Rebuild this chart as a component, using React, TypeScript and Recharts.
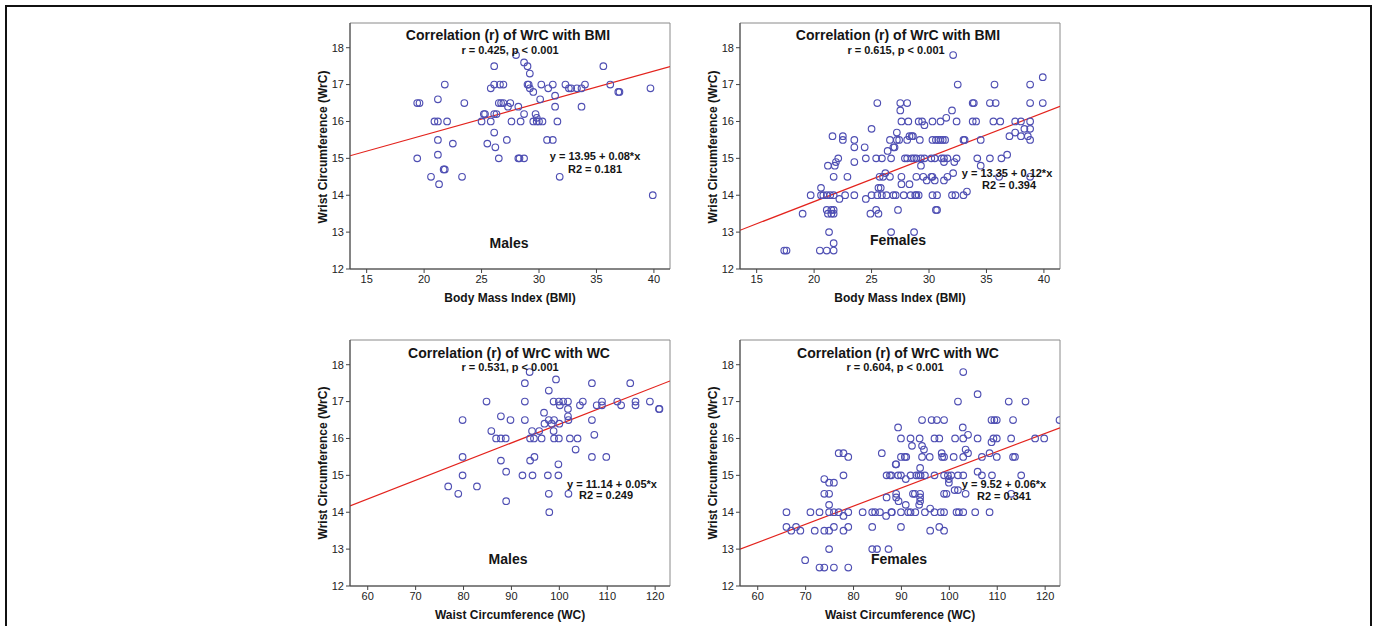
import { ScatterChart, Scatter, XAxis, YAxis, ReferenceLine, ReferenceArea } from 'recharts';

type Pt = [number, number];

const FONT = '"Liberation Sans", Arial, sans-serif';

// axes
const wrcTicks = [12, 13, 14, 15, 16, 17, 18];
const bmiTicks = [15, 20, 25, 30, 35, 40];
const wcTicks = [60, 70, 80, 90, 100, 110, 120];
const wrcDomain: Pt = [12, 18.67];
const bmiDomain: Pt = [13.55, 41.4];
const wcDomain: Pt = [56.3, 123.1];

// males: BMI vs wrist circumference
const malesBmi: Pt[] = [
  [19.4, 16.5], [19.6, 16.5], [19.4, 15.0], [20.6, 14.5], [20.9, 16.0], [21.2, 16.0], [21.2, 16.6],
  [21.2, 15.5], [21.2, 15.1], [21.3, 14.3], [21.7, 14.7], [21.8, 14.7], [21.8, 17.0], [22.0, 16.0],
  [22.5, 15.4], [23.3, 14.5], [23.5, 16.5], [25.0, 16.0], [25.2, 16.2], [25.3, 16.2], [25.5, 15.4],
  [25.8, 16.9], [25.8, 16.0], [26.1, 17.5], [26.1, 17.0], [26.1, 15.7], [26.2, 15.3], [26.1, 16.2],
  [26.3, 16.2], [26.5, 15.0], [26.5, 16.5], [26.6, 17.0], [26.7, 16.5], [26.9, 17.0], [26.9, 16.5],
  [27.2, 15.5], [27.3, 16.4], [27.5, 16.5], [27.6, 16.0], [28.0, 17.8], [28.2, 16.4], [28.2, 15.0],
  [28.3, 15.0], [28.4, 16.0], [28.7, 17.6], [28.7, 16.2], [28.7, 15.0], [29.0, 17.5], [29.0, 17.0],
  [29.1, 17.0], [29.2, 17.3], [29.2, 16.9], [29.5, 16.8], [29.5, 16.0], [29.7, 16.2], [29.8, 16.1],
  [29.8, 16.0], [30.0, 16.0], [30.2, 17.0], [30.1, 16.6], [30.3, 16.0], [30.7, 15.5], [30.8, 16.9],
  [31.2, 17.0], [31.2, 15.5], [31.4, 16.7], [31.4, 16.4], [31.6, 16.0], [31.8, 14.5], [32.3, 17.0],
  [32.6, 16.9], [32.8, 16.9], [33.3, 16.9], [33.7, 16.9], [33.7, 16.4], [34.0, 17.0], [35.6, 17.5],
  [36.2, 17.0], [36.9, 16.8], [37.0, 16.8], [39.7, 16.9], [39.9, 14.0],
];

// females: BMI vs wrist circumference
const femalesBmi: Pt[] = [
  [17.4, 12.5], [17.6, 12.5], [19.0, 13.5], [19.7, 14.0], [20.6, 14.2], [20.6, 14.0], [20.5, 12.5],
  [20.8, 14.0], [21.1, 14.0], [21.1, 12.5], [21.2, 14.8], [21.1, 13.6], [21.2, 13.5], [21.3, 13.0],
  [21.4, 14.0], [21.5, 13.6], [21.5, 13.5], [21.6, 15.6], [21.7, 14.5], [21.7, 14.0], [21.7, 13.6],
  [21.7, 13.5], [21.7, 12.7], [21.7, 12.5], [21.8, 14.8], [21.9, 14.9], [22.1, 15.0], [22.2, 13.9],
  [22.5, 15.6], [22.5, 15.5], [22.7, 14.0], [22.9, 14.5], [23.5, 14.0], [23.5, 14.9], [23.5, 15.5],
  [23.5, 15.3], [24.4, 15.3], [24.5, 15.0], [24.5, 13.9], [24.9, 13.5], [25.0, 14.0], [25.0, 15.8],
  [25.4, 13.6], [25.4, 15.0], [25.5, 16.5], [25.5, 14.0], [25.6, 13.5], [25.6, 14.2], [25.7, 14.5],
  [25.8, 14.2], [25.9, 15.0], [25.9, 14.0], [26.0, 14.5], [26.2, 14.6], [26.3, 14.0], [26.4, 15.2],
  [26.6, 14.5], [26.6, 15.5], [26.7, 15.0], [26.7, 13.0], [26.9, 14.0], [26.9, 15.3], [27.0, 15.3],
  [27.1, 14.0], [27.2, 15.7], [27.2, 15.5], [27.3, 13.6], [27.4, 15.5], [27.5, 16.5], [27.5, 16.3],
  [27.6, 14.3], [27.6, 14.5], [27.6, 16.0], [27.8, 14.0], [27.9, 15.0], [28.1, 16.5], [28.1, 15.0],
  [28.1, 15.5], [28.2, 16.0], [28.3, 14.3], [28.3, 15.6], [28.5, 15.6], [28.6, 15.6], [28.4, 14.0],
  [28.5, 15.0], [28.7, 15.0], [28.7, 13.0], [28.8, 14.0], [28.9, 15.0], [28.9, 14.0], [29.1, 14.0],
  [28.9, 14.5], [29.1, 16.0], [29.2, 15.5], [29.3, 15.0], [29.3, 14.8], [29.4, 16.0], [29.5, 14.5],
  [29.6, 15.9], [29.6, 15.0], [29.8, 14.4], [30.2, 14.5], [30.2, 15.0], [30.3, 16.0], [30.3, 14.5],
  [30.3, 15.5], [30.3, 14.0], [30.5, 15.0], [30.5, 14.4], [30.6, 15.5], [30.6, 13.6], [30.7, 13.6],
  [30.7, 14.0], [30.8, 15.5], [31.0, 16.0], [31.0, 15.5], [31.1, 15.0], [31.2, 15.5], [31.3, 14.9],
  [31.3, 14.4], [31.3, 15.0], [31.4, 15.5], [31.5, 16.1], [31.6, 14.5], [31.6, 15.0], [32.0, 16.3],
  [32.0, 14.0], [32.1, 17.8], [32.1, 14.6], [32.2, 14.9], [32.3, 14.0], [32.4, 16.0], [32.4, 15.0],
  [32.5, 17.0], [33.0, 14.0], [33.0, 15.5], [33.1, 15.5], [33.3, 14.1], [33.8, 16.5], [33.9, 16.5],
  [33.8, 16.0], [34.1, 16.0], [34.2, 15.0], [34.5, 15.5], [34.5, 14.8], [35.3, 16.5], [35.3, 15.0],
  [35.6, 16.0], [35.7, 17.0], [35.8, 16.5], [36.1, 14.5], [36.2, 16.0], [36.3, 15.0], [36.8, 15.1],
  [37.0, 15.6], [37.5, 16.0], [37.5, 15.7], [38.0, 16.0], [38.0, 15.6], [38.3, 15.8], [38.6, 15.6],
  [38.8, 17.0], [38.8, 16.5], [38.8, 16.0], [38.8, 15.8], [38.8, 15.5], [38.8, 14.5], [39.9, 17.2],
  [39.9, 16.5],
];

// males: waist circumference vs wrist circumference
const malesWc: Pt[] = [
  [76.8, 14.7], [78.9, 14.5], [79.8, 16.5], [79.8, 15.5], [79.8, 15.0], [82.8, 14.7], [84.8, 17.0],
  [85.8, 16.2], [86.8, 16.0], [87.8, 16.6], [87.8, 16.0], [87.8, 15.4], [88.8, 16.0], [88.9, 15.1],
  [88.9, 14.3], [89.8, 16.5], [92.3, 15.0], [92.8, 17.5], [92.8, 17.0], [92.8, 16.5], [93.8, 17.8],
  [93.9, 16.0], [93.9, 15.4], [94.3, 16.2], [94.4, 15.0], [94.7, 16.0], [94.8, 15.5], [95.8, 16.2],
  [96.3, 16.0], [96.8, 16.7], [96.9, 16.4], [97.6, 15.0], [97.8, 17.3], [97.8, 16.5], [97.8, 14.5],
  [97.9, 14.0], [98.4, 16.4], [98.8, 17.0], [98.8, 16.2], [98.9, 16.5], [98.9, 16.0], [99.3, 17.6],
  [99.8, 15.3], [99.8, 15.0], [99.9, 16.0], [99.9, 17.0], [100.0, 16.4], [100.1, 16.9], [100.8, 17.0],
  [101.8, 17.0], [101.8, 16.8], [101.8, 16.6], [101.9, 16.5], [101.9, 14.5], [102.2, 16.0],
  [103.4, 15.7], [103.8, 16.0], [104.3, 16.9], [104.9, 17.0], [106.8, 17.5], [106.8, 16.5],
  [106.8, 15.5], [107.3, 16.1], [107.8, 16.9], [108.9, 17.0], [108.9, 16.9], [109.8, 15.5],
  [112.1, 17.0], [112.9, 16.9], [114.8, 17.5], [115.9, 17.0], [115.9, 16.9], [118.9, 17.0],
  [120.8, 16.8], [120.9, 16.8],
];

// females: waist circumference vs wrist circumference
const femalesWc: Pt[] = [
  [66.0, 14.0], [66.0, 13.6], [67.0, 13.5], [68.0, 13.6], [68.9, 13.5], [69.9, 12.7], [71.0, 14.0],
  [71.9, 13.5], [72.9, 14.0], [72.9, 12.5], [73.9, 12.5], [73.9, 13.5], [73.9, 14.9], [73.9, 14.5],
  [74.9, 14.5], [74.9, 14.8], [74.9, 14.2], [74.9, 14.0], [74.9, 13.5], [74.9, 13.0], [75.9, 14.8],
  [75.9, 14.0], [75.9, 13.6], [75.9, 12.5], [76.9, 15.6], [76.9, 14.0], [77.9, 15.6], [77.9, 15.0],
  [77.9, 13.9], [77.9, 13.5], [78.9, 15.5], [78.9, 14.0], [78.9, 13.6], [78.9, 12.5], [81.9, 14.0],
  [83.9, 13.6], [83.9, 13.0], [83.9, 14.0], [84.5, 14.0], [84.9, 13.0], [85.5, 14.0], [85.9, 15.6],
  [86.8, 13.9], [86.9, 15.0], [86.9, 14.4], [87.3, 13.0], [87.6, 15.0], [87.9, 14.0], [87.9, 15.0],
  [88.0, 14.0], [88.8, 15.3], [88.9, 14.5], [88.9, 15.3], [88.9, 14.4], [89.3, 16.3], [89.3, 15.0],
  [89.4, 14.3], [89.9, 16.0], [89.9, 15.5], [89.9, 15.0], [89.9, 14.0], [89.9, 13.6], [90.7, 15.5],
  [90.9, 14.2], [90.9, 14.9], [91.0, 15.5], [91.4, 14.0], [91.9, 16.0], [91.9, 15.0], [91.9, 14.0],
  [92.2, 15.8], [92.4, 14.5], [92.8, 14.5], [92.9, 14.0], [93.1, 15.0], [93.6, 15.0], [93.7, 14.2],
  [93.8, 16.0], [93.9, 15.2], [93.9, 14.5], [93.9, 14.4], [93.9, 14.3], [94.0, 15.0], [94.3, 16.5],
  [94.3, 15.8], [94.3, 15.5], [94.7, 15.7], [94.9, 14.0], [94.9, 15.0], [95.9, 15.5], [96.0, 13.5],
  [96.0, 14.1], [96.3, 16.5], [96.9, 16.0], [96.9, 15.0], [96.9, 14.0], [97.4, 16.5], [97.9, 16.0],
  [97.9, 13.6], [98.2, 14.0], [98.4, 15.6], [98.5, 15.5], [98.9, 16.5], [98.9, 15.5], [98.9, 15.0],
  [98.9, 14.5], [98.9, 14.0], [98.9, 13.5], [99.4, 14.5], [99.7, 15.0], [99.9, 14.9], [99.9, 14.8],
  [100.4, 15.0], [100.9, 15.5], [101.1, 14.6], [101.2, 16.0], [101.5, 14.0], [101.8, 17.0],
  [101.8, 15.0], [101.8, 14.6], [102.0, 14.0], [102.8, 16.3], [102.9, 17.8], [102.9, 16.0],
  [102.9, 15.5], [102.9, 15.0], [102.9, 14.0], [103.4, 15.7], [103.4, 14.5], [103.9, 15.6],
  [103.9, 16.1], [105.4, 14.0], [105.9, 17.2], [105.9, 16.0], [105.9, 15.1], [106.8, 15.5],
  [106.8, 15.0], [108.4, 15.6], [108.4, 14.0], [108.8, 16.5], [108.8, 15.9], [108.9, 15.0],
  [109.2, 16.0], [109.4, 16.5], [109.9, 16.0], [109.9, 16.5], [109.9, 15.5], [112.4, 17.0],
  [112.9, 16.0], [113.3, 16.5], [113.3, 15.5], [113.7, 15.5], [112.9, 14.5], [115.0, 15.0],
  [115.9, 17.0], [117.9, 16.0], [119.8, 16.0], [123.0, 16.5],
];

// fit line end points, read at the plot edges
const fitMalesBmi: Pt[] = [[13.55, 15.07], [41.4, 17.49]];
const fitFemalesBmi: Pt[] = [[13.55, 13.05], [41.4, 16.41]];
const fitMalesWc: Pt[] = [[56.3, 14.17], [123.1, 17.56]];
const fitFemalesWc: Pt[] = [[56.3, 13.0], [123.1, 16.29]];

const Ring = (p: any) => (
  <circle cx={p.cx} cy={p.cy} r={3.3} fill="none" stroke="#4f4fb3" strokeWidth={1.15} />
);

function Txt({ x, y, size, children, rotate }: any) {
  return (
    <div
      style={{
        position: 'absolute',
        left: x,
        top: y,
        transform: `translate(-50%, -50%)${rotate ? ' rotate(-90deg)' : ''}`,
        fontSize: size,
        fontWeight: 'bold',
        lineHeight: 1,
        whiteSpace: 'nowrap',
        color: '#151515',
      }}
    >
      {children}
    </div>
  );
}

function Panel({ left, top, pts, fit, xDomain, xTicks }: any) {
  const data = pts.map(([x, y]: Pt) => ({ x, y }));
  const tick = { fontSize: 11, fill: '#222' };
  return (
    <div style={{ position: 'absolute', left, top }}>
      <ScatterChart width={385} height={289} margin={{ top: 13, right: 5, bottom: 0, left: 5 }}>
        <ReferenceArea
          x1={xDomain[0]}
          x2={xDomain[1]}
          y1={wrcDomain[0]}
          y2={wrcDomain[1]}
          fill="none"
          stroke="#8a8a8a"
          ifOverflow="visible"
        />
        <XAxis
          type="number"
          dataKey="x"
          domain={xDomain}
          ticks={xTicks}
          allowDataOverflow
          height={30}
          tickSize={4}
          tickMargin={2}
          tick={tick}
          stroke="#444"
        />
        <YAxis
          type="number"
          dataKey="y"
          domain={wrcDomain}
          ticks={wrcTicks}
          allowDataOverflow
          width={55}
          tickSize={4}
          tickMargin={2}
          tick={tick}
          stroke="#444"
        />
        <ReferenceLine
          segment={[
            { x: fit[0][0], y: fit[0][1] },
            { x: fit[1][0], y: fit[1][1] },
          ]}
          stroke="#e3231d"
          strokeWidth={1.2}
          ifOverflow="hidden"
        />
        <Scatter data={data} shape={Ring} isAnimationActive={false} />
      </ScatterChart>
    </div>
  );
}

export default function App() {
  return (
    <div
      style={{
        position: 'fixed',
        left: 0,
        top: 0,
        width: 1375,
        height: 626,
        overflow: 'hidden',
        background: '#fff',
        fontFamily: FONT,
      }}
    >
      <div
        style={{
          position: 'absolute',
          left: 5,
          top: 5,
          width: 1367,
          height: 640,
          boxSizing: 'border-box',
          borderLeft: '2px solid #111',
          borderTop: '2px solid #111',
          borderRight: '2px solid #111',
        }}
      />

      <Panel left={290} top={10} pts={malesBmi} fit={fitMalesBmi} xDomain={bmiDomain} xTicks={bmiTicks} />
      <Panel left={680} top={10} pts={femalesBmi} fit={fitFemalesBmi} xDomain={bmiDomain} xTicks={bmiTicks} />
      <Panel left={290} top={327} pts={malesWc} fit={fitMalesWc} xDomain={wcDomain} xTicks={wcTicks} />
      <Panel left={680} top={327} pts={femalesWc} fit={fitFemalesWc} xDomain={wcDomain} xTicks={wcTicks} />

      {/* top left */}
      <Txt x={508} y={35} size={14}>Correlation (r) of WrC with BMI</Txt>
      <Txt x={510} y={50} size={11}>r = 0.425, p &lt; 0.001</Txt>
      <Txt x={595} y={156} size={11}>y = 13.95 + 0.08*x</Txt>
      <Txt x={595} y={169} size={11}>R2 = 0.181</Txt>
      <Txt x={509} y={243} size={14}>Males</Txt>
      <Txt x={323} y={147} size={12} rotate>Wrist Circumference (WrC)</Txt>
      <Txt x={510} y={298} size={12}>Body Mass Index (BMI)</Txt>

      {/* top right */}
      <Txt x={898} y={35} size={14}>Correlation (r) of WrC with BMI</Txt>
      <Txt x={896} y={50} size={11}>r = 0.615, p &lt; 0.001</Txt>
      <Txt x={1007} y={173} size={11}>y = 13.35 + 0.12*x</Txt>
      <Txt x={1009} y={185} size={11}>R2 = 0.394</Txt>
      <Txt x={898} y={240} size={14}>Females</Txt>
      <Txt x={713} y={147} size={12} rotate>Wrist Circumference (WrC)</Txt>
      <Txt x={900} y={298} size={12}>Body Mass Index (BMI)</Txt>

      {/* bottom left */}
      <Txt x={509} y={353} size={14}>Correlation (r) of WrC with WC</Txt>
      <Txt x={510} y={367} size={11}>r = 0.531, p &lt; 0.001</Txt>
      <Txt x={612} y={484} size={11}>y = 11.14 + 0.05*x</Txt>
      <Txt x={606} y={495} size={11}>R2 = 0.249</Txt>
      <Txt x={508} y={559} size={14}>Males</Txt>
      <Txt x={323} y={463} size={12} rotate>Wrist Circumference (WrC)</Txt>
      <Txt x={510} y={615} size={12}>Waist Circumference (WC)</Txt>

      {/* bottom right */}
      <Txt x={898} y={353} size={14}>Correlation (r) of WrC with WC</Txt>
      <Txt x={895} y={367} size={11}>r = 0.604, p &lt; 0.001</Txt>
      <Txt x={1004} y={484} size={11}>y = 9.52 + 0.06*x</Txt>
      <Txt x={1004} y={496} size={11}>R2 = 0.341</Txt>
      <Txt x={899} y={559} size={14}>Females</Txt>
      <Txt x={713} y={463} size={12} rotate>Wrist Circumference (WrC)</Txt>
      <Txt x={900} y={615} size={12}>Waist Circumference (WC)</Txt>
    </div>
  );
}
